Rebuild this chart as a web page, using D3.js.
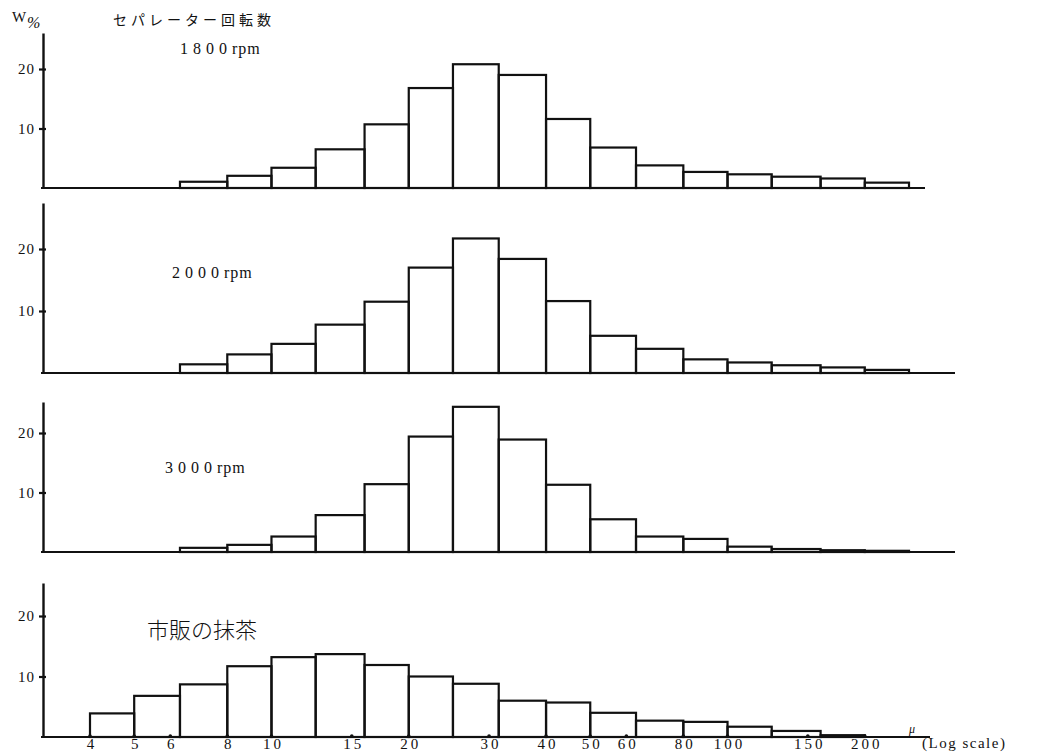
<!DOCTYPE html>
<html>
<head>
<meta charset="UTF-8">
<style>
  body { margin: 0; background: #fff; }
  svg text { font-family: "Liberation Serif", "DejaVu Serif", serif; fill: #111; }
  .jp { font-family: "Noto Sans CJK JP", sans-serif; }
</style>
</head>
<body>
<svg width="1049" height="754"></svg>
<script src="https://cdn.jsdelivr.net/npm/d3@7"></script>
<script>
// bin edges (micron, log scale) and tick labels
const binEdges = [4, 5, 6.3, 8, 10, 12.5, 16, 20, 25, 31.5, 40, 50, 63, 80, 100, 125, 160, 200, 250];
const xTickValues = [4, 5, 6, 8, 10, 15, 20, 30, 40, 50, 60, 80, 100, 150, 200];
const yTickValues = [10, 20];

// W % per bin; separator runs start at the 6.3 edge, commercial at 4
const w1800 = [1.05, 2.05, 3.4, 6.5, 10.7, 16.8, 20.8, 19.0, 11.6, 6.8, 3.8, 2.7, 2.3, 1.9, 1.6, 0.9];
const w2000 = [1.4, 3.0, 4.7, 7.8, 11.5, 17.0, 21.7, 18.4, 11.6, 6.0, 3.9, 2.2, 1.7, 1.25, 0.9, 0.5];
const w3000 = [0.7, 1.2, 2.6, 6.2, 11.4, 19.4, 24.4, 18.9, 11.3, 5.5, 2.6, 2.2, 0.9, 0.5, 0.3, 0.2];
const wShop = [3.9, 6.8, 8.7, 11.7, 13.2, 13.7, 11.9, 10.0, 8.8, 6.0, 5.7, 4.0, 2.7, 2.5, 1.7, 1.0, 0.3];

const panelLabels = ["1800rpm", "2000rpm", "3000rpm", "市販の抹茶"];

const svg = d3.select("svg");
const x = d3.scaleLog().domain([4, 250]).range([90, 909]);
const axisX = 43;

// per-panel layout
const layout = [
  { data: w1800, first: 2, base: 188, y20: 69,  top: 33,  right: 925, lx: 180, ly: 54 },
  { data: w2000, first: 2, base: 373, y20: 249, top: 203, right: 955, lx: 172, ly: 278 },
  { data: w3000, first: 2, base: 552, y20: 433, top: 402, right: 955, lx: 165, ly: 473 },
  { data: wShop, first: 0, base: 737, y20: 616, top: 583, right: 930, lx: 147, ly: 638 }
];

layout.forEach((p, i) => {
  const topVal = 20 * (p.base - p.top) / (p.base - p.y20);
  const y = d3.scaleLinear().domain([0, topVal]).range([p.base, p.top]);
  const g = svg.append("g");

  // baseline
  g.append("line")
    .attr("x1", axisX - 2).attr("x2", p.right)
    .attr("y1", y(0)).attr("y2", y(0))
    .attr("stroke", "#111").attr("stroke-width", 2.2);

  // y axis
  const ya = g.append("g")
    .attr("transform", `translate(${axisX},0)`)
    .call(d3.axisLeft(y).tickValues(yTickValues).tickSize(4).tickSizeOuter(0).tickFormat(d3.format("d")));
  ya.select(".domain").attr("stroke", "#111").attr("stroke-width", 2.4);
  ya.selectAll(".tick line").attr("stroke", "#111").attr("stroke-width", 2.2).attr("x2", 3).attr("x1", -4);
  ya.selectAll(".tick text")
    .attr("x", -8)
    .style("font-size", "15px")
    .style("letter-spacing", "1px")
    .attr("fill", "#111");

  // histogram bars
  const bars = p.data.map((v, k) => ({ x0: binEdges[p.first + k], x1: binEdges[p.first + k + 1], v }));
  g.selectAll("rect.bar")
    .data(bars)
    .enter()
    .append("rect")
    .attr("class", "bar")
    .attr("x", d => x(d.x0))
    .attr("width", d => x(d.x1) - x(d.x0))
    .attr("y", d => y(d.v))
    .attr("height", d => y(0) - y(d.v))
    .attr("fill", "none")
    .attr("stroke", "#111")
    .attr("stroke-width", 2.2);

  // panel label
  if (i < 3) {
    const t = g.append("text").attr("x", p.lx).attr("y", p.ly).style("font-size", "16px");
    t.append("tspan").text(panelLabels[i].slice(0, 4)).style("letter-spacing", "5px");
    t.append("tspan").text(panelLabels[i].slice(4)).style("letter-spacing", "1px");
  } else {
    g.append("text").attr("class", "jp")
      .attr("x", p.lx).attr("y", p.ly)
      .style("font-size", "22px")
      .style("font-weight", 300)
      .text(panelLabels[i]);
  }
});

// x axis labels under the last panel
const xa = svg.append("g")
  .attr("transform", "translate(0,737)")
  .call(d3.axisBottom(x).tickValues(xTickValues).tickSize(0).tickFormat(d3.format("d")));
xa.select(".domain").remove();
xa.selectAll(".tick text")
  .attr("y", 1)
  .attr("dx", "1.5px")
  .style("font-size", "15px")
  .style("letter-spacing", "3px")
  .attr("fill", "#111");

// small tick dots on the x axis
svg.append("g").selectAll("circle")
  .data(xTickValues)
  .enter()
  .append("circle")
  .attr("cx", d => x(d))
  .attr("cy", 736)
  .attr("r", 1.8)
  .attr("fill", "#111");

// unit and axis titles
svg.append("text").attr("x", 12).attr("y", 22).style("font-size", "15px").text("W");
svg.append("text").attr("x", 27).attr("y", 28).style("font-size", "16px").style("font-style", "italic").text("%");
svg.append("text").attr("class", "jp").attr("x", 113).attr("y", 25)
  .style("font-size", "14px").style("letter-spacing", "4px").text("セパレーター回転数");
svg.append("text").attr("x", 909).attr("y", 733).style("font-size", "12px").style("font-style", "italic").text("μ");
svg.append("text").attr("x", 922).attr("y", 748).style("font-size", "15px").style("letter-spacing", "1.5px").text("(Log scale)");
</script>
</body>
</html>
